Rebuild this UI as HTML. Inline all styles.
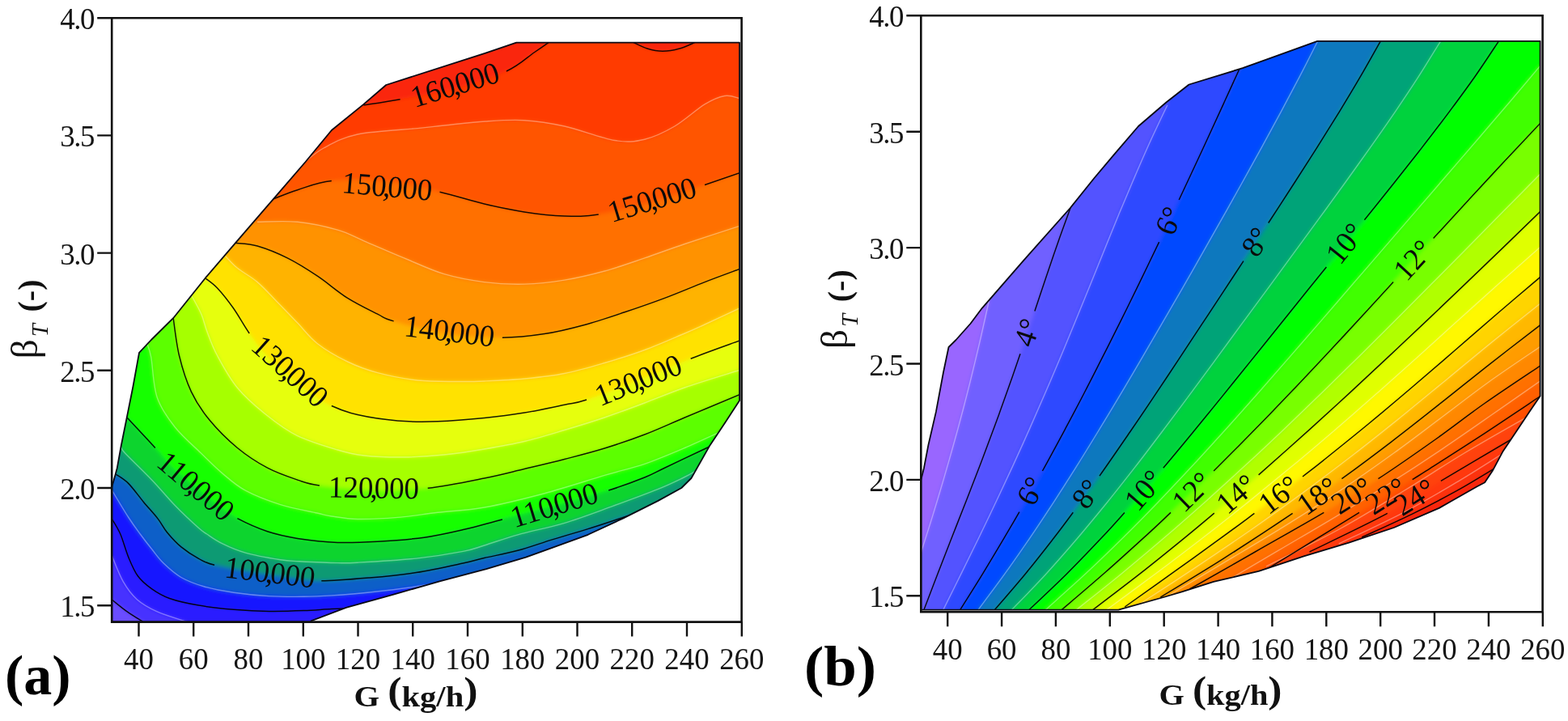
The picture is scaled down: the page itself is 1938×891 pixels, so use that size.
<!DOCTYPE html>
<html lang="en"><head><meta charset="utf-8"><title>Contour maps</title>
<style>html,body{margin:0;padding:0;background:#fff}svg{display:block}text{font-family:'Liberation Serif','DejaVu Serif',serif}</style></head><body>
<svg width="1938" height="891" viewBox="0 0 1938 891">
<defs><filter id="soft" filterUnits="userSpaceOnUse" x="0" y="0" width="1938" height="891"><feGaussianBlur stdDeviation="2.5"/></filter></defs>
<rect width="1938" height="891" fill="#fff"/>
<clipPath id="cpa"><path d="M138.2,768.6L138.2,602L142.3,587.4L144.8,578.2L149.7,551L157.2,513.8L164.6,476.7L172,435.8L186.9,420L214.1,393.2L253.7,343.7L290.9,300.3L338,245.8L377.6,200L409.8,161L449.4,128.9L477.2,105L600,65.7L638.2,52.6L914,52.6L914,495L896.4,522L876.7,551.6L854.4,591L842.3,603L813.4,618.9L770,640.6L726.7,660.8L683.3,676.7L650,688.7L601.2,703.1L543.4,718.3L485.6,734.9L427.8,750.8L384.4,767.4L384.4,768.6Z"/></clipPath>
<g clip-path="url(#cpa)">
<g filter="url(#soft)">
<rect x="-50" y="-50" width="2050" height="1000" fill="#6A4DFF"/>
<path d="M138.2,741C141.4,743.5 150.7,751.3 157.2,755.9C163.7,760.5 173.7,766.5 177,768.6L177,950L2000,950L2000,-50L-50,-50L-50,741Z" fill="#4632FF"/>
<path d="M138.2,686.5C140.5,691.9 147,709.6 152.2,718.7C157.4,727.8 162.5,734.8 169.5,741C176.5,747.2 184,751.3 194.3,755.9C204.6,760.5 225.3,766.5 231.5,768.6L231.5,950L2000,950L2000,-50L-50,-50L-50,686.5Z" fill="#2A1AFF"/>
<path d="M138.2,641C140,644.2 145.4,652 148.8,660C152.2,668 155.3,680.2 158.9,688.9C162.5,697.6 165.7,705.5 170.5,712C175.3,718.5 181.3,723.3 187.8,727.9C194.3,732.5 199.9,736.1 209.5,739.5C219.1,742.9 232.4,745.8 245.6,748.1C258.8,750.4 274.4,752 288.9,753.2C303.3,754.4 317.9,755.2 332.3,755.4C346.8,755.6 362.7,755.1 375.6,754.6C388.6,754.1 399.3,753 410,752.5C420.7,752 435,751.7 440,751.5L440,950L2000,950L2000,-50L-50,-50L-50,641Z" fill="#1515FF"/>
<path d="M138.2,605.5C141.6,611.2 153.1,630.4 158.9,639.5C164.8,648.6 168.5,653.5 173.3,660C178.1,666.5 183,672.8 187.8,678.8C192.6,684.8 196.2,690.3 202.2,696.1C208.2,701.9 215.5,708.7 223.9,713.5C232.3,718.3 242,721.9 252.8,725C263.6,728.1 275.6,730.3 288.9,732.2C302.1,734.1 317.9,735.8 332.3,736.6C346.8,737.5 362.7,737.4 375.6,737.3C388.6,737.2 396.5,736.8 410,735.9C423.5,735 439.3,733.9 456.7,732C474.1,730.1 498.4,727.2 514.5,724.8C530.5,722.4 546.6,718.7 553,717.5L553,950L2000,950L2000,-50L-50,-50L-50,605.5Z" fill="#0F5FC8"/>
<path d="M143,586C145.7,587.9 153.1,591.8 158.9,597.6C164.7,603.4 171.7,613.5 177.7,620.7C183.7,627.9 190.2,634.7 195,640.9C199.8,647.1 201.8,652.2 206.6,658C211.4,663.8 217.4,670.5 223.9,675.9C230.4,681.3 238.7,686.6 245.6,690.3C252.5,694 253,695.3 265.1,698.3C277.2,701.2 302.2,705.4 318,708C333.8,710.6 346.8,712.4 360,714C373.2,715.6 381.2,717.8 397.3,717.8C413.4,717.8 437.2,715.7 456.7,714C476.2,712.3 495.2,710.5 514.5,707.5C533.8,704.5 558.3,699 572.3,696C586.3,693 587.3,692.1 598.6,689.5C609.9,686.9 625.9,684.1 640,680.3C654.1,676.5 668.8,671 683.3,666.6C697.8,662.2 712.2,658.1 726.7,653.6C741.2,649.1 761.1,642.4 770,639.5C778.9,636.6 778.3,636.6 780,636L780,950L2000,950L2000,-50L-50,-50L-50,586Z" fill="#0F9A73"/>
<path d="M150,553C150.8,554.2 148.3,553.3 154.6,560C160.9,566.7 177.5,582.4 187.8,593.2C198.2,604 207.1,615.1 216.7,625C226.3,634.9 239.1,646.7 245.6,652.5C252.1,658.3 250.9,656.8 255.7,660C260.5,663.2 266.6,667.8 274.5,671.6C282.4,675.5 291.4,679.7 303.4,683.1C315.4,686.5 335.6,690 346.7,691.8C357.8,693.6 358.2,693.1 370,693.7C381.8,694.3 405.2,695.4 417.2,695.6C429.2,695.9 426,696.1 442.2,695.2C458.4,694.3 492.8,692.4 514.5,690.1C536.2,687.8 558.3,684.1 572.3,681.4C586.3,678.7 587.3,677.4 598.6,674C609.9,670.6 623.5,665.4 640,660.8C656.5,656.2 678.5,652.1 697.8,646.3C717.1,640.5 736.3,633.1 755.6,626.1C774.9,619.1 798.5,610.4 813.4,604.4C828.3,598.4 837.4,593.7 845.2,590C853,586.3 857.5,583.3 860,582L2000,582L2000,-50L-50,-50L-50,553Z" fill="#0FD42D"/>
<path d="M157.2,516.3C163,522.5 182.2,542.9 191.8,553.5C201.4,564.1 206.5,571.8 215,580C223.5,588.2 233.8,595.5 243,603C252.2,610.5 261.6,618.7 270,625C278.4,631.3 283.3,635.4 293.4,640.7C303.5,646 318.1,652.7 330.5,656.8C342.9,660.9 353.2,663.1 367.7,665.4C382.1,667.7 400.7,669.8 417.2,670.4C433.7,671 448.9,670.2 466.7,669.2C484.5,668.2 506.4,666.7 524.3,664.2C542.1,661.7 557.7,658 573.8,654.3C589.9,650.6 602,646.8 620.9,641.9C639.8,637 665.1,631 687,625C708.9,619 733.9,611.8 752.2,606C770.5,600.2 785.2,594.6 796.7,590C808.2,585.4 809.1,584.1 821.5,578.2C833.9,572.3 861.6,559.2 871,554.7C880.4,550.2 876.8,551.6 878,551L2000,551L2000,-50L-50,-50L-50,516.3Z" fill="#12FF06"/>
<path d="M182,425C182.8,427.8 184.8,430.7 186.8,441.7C188.8,452.7 189.3,476.6 194.2,491C199.1,505.4 207.3,516.5 216.4,528C225.5,539.5 238.8,550.6 248.5,560C258.2,569.4 265.4,576.9 274.5,584.6C283.6,592.3 291.4,599.7 303.4,606.2C315.4,612.7 331.9,619 346.7,623.6C361.5,628.2 381.4,631.6 392,634C402.6,636.4 401.7,636.8 410,638C418.3,639.2 428.4,641.3 442,641.5C455.6,641.7 475,640.8 491.5,639.4C508,638 523.1,635.4 541,633.3C558.9,631.2 576.6,630.9 598.6,627C620.6,623.1 648.1,616.3 672.9,609.7C697.7,603.1 726.6,593.5 747.2,587.4C767.8,581.3 780.2,578.9 796.7,573.3C813.2,567.6 829.8,560.5 846.3,553.5C862.8,546.5 887.5,534.9 895.8,531.2L2000,531.2L2000,-50L-50,-50L-50,425Z" fill="#5CFF00"/>
<path d="M214.1,392.5C215.3,400.3 217.8,424.2 221.5,439.5C225.2,454.8 230.2,470.9 236.4,484.1C242.6,497.3 249.2,507.2 258.7,518.8C268.2,530.4 281.4,543.6 293.4,553.5C305.4,563.4 318.1,571.6 330.5,578.2C342.9,584.8 357,589.5 367.7,593.1C378.4,596.7 379.2,597.9 394.9,600C410.6,602.1 439.7,605.5 462,606C484.3,606.5 505.9,605.8 528.7,603.3C551.5,600.8 578.7,595 598.6,591C618.5,587 631.6,583.4 648.1,579.5C664.6,575.6 681.2,571.8 697.7,567.5C714.2,563.2 730.7,559.1 747.2,554C763.7,548.9 780.2,543.3 796.7,537C813.2,530.7 826.8,524.2 846.3,516C865.8,507.8 902.7,492.5 914,487.8L2000,487.8L2000,-50L-50,-50L-50,392.5Z" fill="#A6FF00"/>
<path d="M236.4,364.7C238.5,368.6 245.5,380.6 248.8,388.2C252.1,395.8 252.7,401.4 256,410C259.3,418.6 262.4,428 268.6,439.5C274.8,451 283.1,466.8 293.4,479.2C303.7,491.6 318.1,503.9 330.5,513.8C342.9,523.7 353.2,531.6 367.7,538.6C382.1,545.6 403.5,551.9 417.2,556C430.9,560.1 436.2,561.5 450,563C463.8,564.5 483.5,565.2 500,565C516.5,564.8 532.6,563.7 549,562C565.4,560.3 582.1,557.8 598.6,555C615.1,552.2 631.6,549.4 648.1,545.5C664.6,541.6 681.2,536.4 697.7,531.5C714.2,526.6 730.7,521.6 747.2,516C763.7,510.4 780.2,504.2 796.7,498C813.2,491.8 826.8,485.8 846.3,479C865.8,472.2 902.7,461.1 914,457.5L2000,457.5L2000,-50L-50,-50L-50,364.7Z" fill="#E6FF0A"/>
<path d="M253.7,343.7C256.2,345.8 262.8,349.8 268.6,356C274.4,362.2 281.8,371.5 288.4,380.8C295,390.1 301.3,402.1 308.2,412C315.1,421.9 321.9,431.2 330,440C338.1,448.8 347.8,457.2 357,465C366.2,472.8 376.2,480.9 385,487C393.8,493.1 400.3,497.2 409.8,501.5C419.3,505.8 428.4,509.5 442,512.6C455.6,515.7 475,518.6 491.5,520C508,521.4 523.1,521.4 541,520.8C558.9,520.2 580.8,518.3 598.6,516.5C616.5,514.7 631.6,512.8 648.1,510.1C664.6,507.4 684.9,502.9 697.7,500.2C710.5,497.5 709.8,499 725,494C740.2,489 767.5,478.5 789,470C810.5,461.5 832.9,451.4 853.7,443.2C874.5,435 904,424.7 914,421L2000,421L2000,-50L-50,-50L-50,343.7Z" fill="#FFE205"/>
<path d="M278.5,316.4C281,318.9 286.8,325.9 293.4,331.3C300,336.7 309.9,341.6 318.1,348.6C326.4,355.6 334.6,365 342.9,373.4C351.2,381.8 359.4,390.4 367.7,399C375.9,407.6 382.1,416.7 392.4,424.7C402.7,432.7 417.2,441 429.6,447C442,453 452.2,456.8 466.7,460.6C481.1,464.4 499.8,468.2 516.3,470C532.8,471.8 552.1,471.3 565.8,471.5C579.5,471.7 584.9,471.6 598.6,471C612.3,470.4 631.6,469.6 648.1,468C664.6,466.4 681.2,464.8 697.7,461.5C714.2,458.2 730.7,453.3 747.2,448.5C763.7,443.7 780.2,438.6 796.7,432.5C813.2,426.4 833.9,417.2 846.3,412C858.7,406.8 859.7,406.2 871,401C882.3,395.8 906.8,384.3 914,381L2000,381L2000,-50L-50,-50L-50,316.4Z" fill="#FFB300"/>
<path d="M290.9,300.3C295.4,300.9 307.4,300.9 318.1,304C328.8,307.1 342.9,312.7 355.3,318.9C367.7,325.1 380,332.9 392.4,341.2C404.8,349.4 417.2,360.6 429.6,368.4C442,376.2 457.2,383.4 466.7,388.2C476.2,392.9 472.2,392.8 486.6,396.9C501,401 530.6,409.6 553,413C575.4,416.4 600.9,417.4 620.9,417.3C640.9,417.2 656,415.2 672.9,412.6C689.8,410 705.9,406 722.4,401.5C738.9,397 755.5,391.3 772,385.8C788.5,380.3 805,374.6 821.5,368.4C838,362.2 855.6,354.6 871,348.6C886.4,342.6 906.8,335.2 914,332.5L2000,332.5L2000,-50L-50,-50L-50,300.3Z" fill="#FF9200"/>
<path d="M318,274.3C326.3,274.3 351.2,272.7 367.7,274.3C384.2,275.9 403.5,280.3 417.2,284.2C430.9,288.1 436.3,292 450,297.8C463.7,303.6 483,312.1 499.5,318.9C516,325.7 532.5,333.8 549,338.7C565.5,343.6 582.1,346.5 598.6,348.6C615.1,350.7 631.6,351.5 648.1,351.1C664.6,350.7 681.2,348.8 697.7,346.1C714.2,343.4 730.7,339.5 747.2,335C763.7,330.5 780.2,324.5 796.7,318.9C813.2,313.3 826.8,308.1 846.3,301.5C865.8,294.9 902.7,283 914,279.3L2000,279.3L2000,-50L-50,-50L-50,274.3Z" fill="#FF7000"/>
<path d="M338,245.8C342.9,244 355.7,238.4 367.7,234.7C379.7,231 391.6,225.3 409.8,223.5C428,221.7 454.7,221.7 477,224C499.3,226.3 523.2,232.5 543.5,237.2C563.8,241.9 581.2,247.9 598.6,252C616,256.1 631.6,259.4 648.1,261.9C664.6,264.4 682.4,266.4 697.7,266.9C713,267.4 721.8,267.7 739.8,264.9C757.8,262.1 784.1,256.1 806,250C827.9,243.9 853,234.6 871,228.5C889,222.4 906.8,216.1 914,213.6L2000,213.6L2000,-50L-50,-50L-50,245.8Z" fill="#FF5500"/>
<path d="M375,202C379.2,198.8 388.8,189 400,183C411.2,177 422.7,170.1 442,166C461.3,161.9 498.2,160.4 516,158.6C533.8,156.8 535,156.4 549,155C563,153.6 583.5,151.1 600,150C616.5,148.9 631.7,147.7 648,148.7C664.3,149.7 679.1,151.9 697.7,156C716.3,160.1 743.1,170.8 759.6,173.5C776.1,176.2 784.3,175.1 796.7,172.2C809.1,169.3 821.5,163.2 833.9,156C846.3,148.8 860.7,135.2 871,128.9C881.3,122.7 888.6,119.7 895.8,118.5C903,117.3 911,121 914,121.5L2000,121.5L2000,-50L-50,-50L-50,202Z" fill="#FF3A00"/>
<path d="M449.4,130C456.9,128.8 476,126 494.6,122.7C513.2,119.4 539.1,115.8 561,110C582.9,104.2 609.4,95.5 625.9,88C642.4,80.5 651.3,70.9 660,65C668.7,59.1 674.9,54.7 677.9,52.6L677.9,-50L-50,-50L-50,130Z" fill="#FA2808"/>
<path d="M783,52.6C785.8,53.8 794,58.2 800,60C806,61.8 812.3,63.2 819,63.2C825.7,63.2 833.4,61.8 840,60C846.6,58.2 855.6,53.8 858.7,52.6L858.7,-50L783,-50Z" fill="#FA2808"/>
</g>
<path d="M138.2,686.5C140.5,691.9 147,709.6 152.2,718.7C157.4,727.8 162.5,734.8 169.5,741C176.5,747.2 184,751.3 194.3,755.9C204.6,760.5 225.3,766.5 231.5,768.6M138.2,605.5C141.6,611.2 153.1,630.4 158.9,639.5C164.8,648.6 168.5,653.5 173.3,660C178.1,666.5 183,672.8 187.8,678.8C192.6,684.8 196.2,690.3 202.2,696.1C208.2,701.9 215.5,708.7 223.9,713.5C232.3,718.3 242,721.9 252.8,725C263.6,728.1 275.6,730.3 288.9,732.2C302.1,734.1 317.9,735.8 332.3,736.6C346.8,737.5 362.7,737.4 375.6,737.3C388.6,737.2 396.5,736.8 410,735.9C423.5,735 439.3,733.9 456.7,732C474.1,730.1 498.4,727.2 514.5,724.8C530.5,722.4 546.6,718.7 553,717.5M150,553C150.8,554.2 148.3,553.3 154.6,560C160.9,566.7 177.5,582.4 187.8,593.2C198.2,604 207.1,615.1 216.7,625C226.3,634.9 239.1,646.7 245.6,652.5C252.1,658.3 250.9,656.8 255.7,660C260.5,663.2 266.6,667.8 274.5,671.6C282.4,675.5 291.4,679.7 303.4,683.1C315.4,686.5 335.6,690 346.7,691.8C357.8,693.6 358.2,693.1 370,693.7C381.8,694.3 405.2,695.4 417.2,695.6C429.2,695.9 426,696.1 442.2,695.2C458.4,694.3 492.8,692.4 514.5,690.1C536.2,687.8 558.3,684.1 572.3,681.4C586.3,678.7 587.3,677.4 598.6,674C609.9,670.6 623.5,665.4 640,660.8C656.5,656.2 678.5,652.1 697.8,646.3C717.1,640.5 736.3,633.1 755.6,626.1C774.9,619.1 798.5,610.4 813.4,604.4C828.3,598.4 837.4,593.7 845.2,590C853,586.3 857.5,583.3 860,582M182,425C182.8,427.8 184.8,430.7 186.8,441.7C188.8,452.7 189.3,476.6 194.2,491C199.1,505.4 207.3,516.5 216.4,528C225.5,539.5 238.8,550.6 248.5,560C258.2,569.4 265.4,576.9 274.5,584.6C283.6,592.3 291.4,599.7 303.4,606.2C315.4,612.7 331.9,619 346.7,623.6C361.5,628.2 381.4,631.6 392,634C402.6,636.4 401.7,636.8 410,638C418.3,639.2 428.4,641.3 442,641.5C455.6,641.7 475,640.8 491.5,639.4C508,638 523.1,635.4 541,633.3C558.9,631.2 576.6,630.9 598.6,627C620.6,623.1 648.1,616.3 672.9,609.7C697.7,603.1 726.6,593.5 747.2,587.4C767.8,581.3 780.2,578.9 796.7,573.3C813.2,567.6 829.8,560.5 846.3,553.5C862.8,546.5 887.5,534.9 895.8,531.2M236.4,364.7C238.5,368.6 245.5,380.6 248.8,388.2C252.1,395.8 252.7,401.4 256,410C259.3,418.6 262.4,428 268.6,439.5C274.8,451 283.1,466.8 293.4,479.2C303.7,491.6 318.1,503.9 330.5,513.8C342.9,523.7 353.2,531.6 367.7,538.6C382.1,545.6 403.5,551.9 417.2,556C430.9,560.1 436.2,561.5 450,563C463.8,564.5 483.5,565.2 500,565C516.5,564.8 532.6,563.7 549,562C565.4,560.3 582.1,557.8 598.6,555C615.1,552.2 631.6,549.4 648.1,545.5C664.6,541.6 681.2,536.4 697.7,531.5C714.2,526.6 730.7,521.6 747.2,516C763.7,510.4 780.2,504.2 796.7,498C813.2,491.8 826.8,485.8 846.3,479C865.8,472.2 902.7,461.1 914,457.5M278.5,316.4C281,318.9 286.8,325.9 293.4,331.3C300,336.7 309.9,341.6 318.1,348.6C326.4,355.6 334.6,365 342.9,373.4C351.2,381.8 359.4,390.4 367.7,399C375.9,407.6 382.1,416.7 392.4,424.7C402.7,432.7 417.2,441 429.6,447C442,453 452.2,456.8 466.7,460.6C481.1,464.4 499.8,468.2 516.3,470C532.8,471.8 552.1,471.3 565.8,471.5C579.5,471.7 584.9,471.6 598.6,471C612.3,470.4 631.6,469.6 648.1,468C664.6,466.4 681.2,464.8 697.7,461.5C714.2,458.2 730.7,453.3 747.2,448.5C763.7,443.7 780.2,438.6 796.7,432.5C813.2,426.4 833.9,417.2 846.3,412C858.7,406.8 859.7,406.2 871,401C882.3,395.8 906.8,384.3 914,381M318,274.3C326.3,274.3 351.2,272.7 367.7,274.3C384.2,275.9 403.5,280.3 417.2,284.2C430.9,288.1 436.3,292 450,297.8C463.7,303.6 483,312.1 499.5,318.9C516,325.7 532.5,333.8 549,338.7C565.5,343.6 582.1,346.5 598.6,348.6C615.1,350.7 631.6,351.5 648.1,351.1C664.6,350.7 681.2,348.8 697.7,346.1C714.2,343.4 730.7,339.5 747.2,335C763.7,330.5 780.2,324.5 796.7,318.9C813.2,313.3 826.8,308.1 846.3,301.5C865.8,294.9 902.7,283 914,279.3M375,202C379.2,198.8 388.8,189 400,183C411.2,177 422.7,170.1 442,166C461.3,161.9 498.2,160.4 516,158.6C533.8,156.8 535,156.4 549,155C563,153.6 583.5,151.1 600,150C616.5,148.9 631.7,147.7 648,148.7C664.3,149.7 679.1,151.9 697.7,156C716.3,160.1 743.1,170.8 759.6,173.5C776.1,176.2 784.3,175.1 796.7,172.2C809.1,169.3 821.5,163.2 833.9,156C846.3,148.8 860.7,135.2 871,128.9C881.3,122.7 888.6,119.7 895.8,118.5C903,117.3 911,121 914,121.5" fill="none" stroke="rgba(255,255,255,0.36)" stroke-width="1.4"/>
<path d="M138.2,741C141.4,743.5 150.7,751.3 157.2,755.9C163.7,760.5 173.7,766.5 177,768.6M138.2,641C140,644.2 145.4,652 148.8,660C152.2,668 155.3,680.2 158.9,688.9C162.5,697.6 165.7,705.5 170.5,712C175.3,718.5 181.3,723.3 187.8,727.9C194.3,732.5 199.9,736.1 209.5,739.5C219.1,742.9 232.4,745.8 245.6,748.1C258.8,750.4 274.4,752 288.9,753.2C303.3,754.4 317.9,755.2 332.3,755.4C346.8,755.6 362.7,755.1 375.6,754.6C388.6,754.1 399.3,753 410,752.5C420.7,752 435,751.7 440,751.5M143,586C145.7,587.9 153.1,591.8 158.9,597.6C164.7,603.4 171.7,613.5 177.7,620.7C183.7,627.9 190.2,634.7 195,640.9C199.8,647.1 201.8,652.2 206.6,658C211.4,663.8 217.4,670.5 223.9,675.9C230.4,681.3 238.7,686.6 245.6,690.3C252.5,694 253,695.3 265.1,698.3M397.3,717.8C413.4,717.8 437.2,715.7 456.7,714C476.2,712.3 495.2,710.5 514.5,707.5C533.8,704.5 558.3,699 572.3,696C586.3,693 587.3,692.1 598.6,689.5C609.9,686.9 625.9,684.1 640,680.3C654.1,676.5 668.8,671 683.3,666.6C697.8,662.2 712.2,658.1 726.7,653.6C741.2,649.1 761.1,642.4 770,639.5C778.9,636.6 778.3,636.6 780,636M157.2,516.3C163,522.5 182.2,542.9 191.8,553.5M293.4,640.7C303.5,646 318.1,652.7 330.5,656.8C342.9,660.9 353.2,663.1 367.7,665.4C382.1,667.7 400.7,669.8 417.2,670.4C433.7,671 448.9,670.2 466.7,669.2C484.5,668.2 506.4,666.7 524.3,664.2C542.1,661.7 557.7,658 573.8,654.3C589.9,650.6 602,646.8 620.9,641.9M752.2,606C770.5,600.2 785.2,594.6 796.7,590C808.2,585.4 809.1,584.1 821.5,578.2C833.9,572.3 861.6,559.2 871,554.7C880.4,550.2 876.8,551.6 878,551M214.1,392.5C215.3,400.3 217.8,424.2 221.5,439.5C225.2,454.8 230.2,470.9 236.4,484.1C242.6,497.3 249.2,507.2 258.7,518.8C268.2,530.4 281.4,543.6 293.4,553.5C305.4,563.4 318.1,571.6 330.5,578.2C342.9,584.8 357,589.5 367.7,593.1C378.4,596.7 379.2,597.9 394.9,600M528.7,603.3C551.5,600.8 578.7,595 598.6,591C618.5,587 631.6,583.4 648.1,579.5C664.6,575.6 681.2,571.8 697.7,567.5C714.2,563.2 730.7,559.1 747.2,554C763.7,548.9 780.2,543.3 796.7,537C813.2,530.7 826.8,524.2 846.3,516C865.8,507.8 902.7,492.5 914,487.8M253.7,343.7C256.2,345.8 262.8,349.8 268.6,356C274.4,362.2 281.8,371.5 288.4,380.8C295,390.1 301.3,402.1 308.2,412M409.8,501.5C419.3,505.8 428.4,509.5 442,512.6C455.6,515.7 475,518.6 491.5,520C508,521.4 523.1,521.4 541,520.8C558.9,520.2 580.8,518.3 598.6,516.5C616.5,514.7 631.6,512.8 648.1,510.1C664.6,507.4 684.9,502.9 697.7,500.2C710.5,497.5 709.8,499 725,494M853.7,443.2C874.5,435 904,424.7 914,421M290.9,300.3C295.4,300.9 307.4,300.9 318.1,304C328.8,307.1 342.9,312.7 355.3,318.9C367.7,325.1 380,332.9 392.4,341.2C404.8,349.4 417.2,360.6 429.6,368.4C442,376.2 457.2,383.4 466.7,388.2C476.2,392.9 472.2,392.8 486.6,396.9M620.9,417.3C640.9,417.2 656,415.2 672.9,412.6C689.8,410 705.9,406 722.4,401.5C738.9,397 755.5,391.3 772,385.8C788.5,380.3 805,374.6 821.5,368.4C838,362.2 855.6,354.6 871,348.6C886.4,342.6 906.8,335.2 914,332.5M338,245.8C342.9,244 355.7,238.4 367.7,234.7C379.7,231 391.6,225.3 409.8,223.5M543.5,237.2C563.8,241.9 581.2,247.9 598.6,252C616,256.1 631.6,259.4 648.1,261.9C664.6,264.4 682.4,266.4 697.7,266.9C713,267.4 721.8,267.7 739.8,264.9M871,228.5C889,222.4 906.8,216.1 914,213.6M449.4,130C456.9,128.8 476,126 494.6,122.7M625.9,88C642.4,80.5 651.3,70.9 660,65C668.7,59.1 674.9,54.7 677.9,52.6M783,52.6C785.8,53.8 794,58.2 800,60C806,61.8 812.3,63.2 819,63.2C825.7,63.2 833.4,61.8 840,60C846.6,58.2 855.6,53.8 858.7,52.6" fill="none" stroke="#000" stroke-width="1.5" stroke-opacity="0.9"/>
</g>
<path d="M138.2,768.6L138.2,602.0L142.3,587.4L144.8,578.2L149.7,551.0L157.2,513.8L164.6,476.7L172.0,435.8L186.9,420.0L214.1,393.2L253.7,343.7L290.9,300.3L338.0,245.8L377.6,200.0L409.8,161.0L449.4,128.9L477.2,105.0L600.0,65.7L638.2,52.6L914.0,52.6L914.0,495.0L896.4,522.0L876.7,551.6L854.4,591.0L842.3,603.0L813.4,618.9L770.0,640.6L726.7,660.8L683.3,676.7L650.0,688.7L601.2,703.1L543.4,718.3L485.6,734.9L427.8,750.8L384.4,767.4L384.4,768.6Z" fill="none" stroke="#0a0a14" stroke-width="1.8" stroke-linejoin="round"/>
<path d="M138.2,22.2H916.6V768.6H138.2Z" fill="none" stroke="#111" stroke-width="2.6"/>
<path d="M171.5,768.6v18M239.2,768.6v18M307,768.6v18M374.8,768.6v18M442.5,768.6v18M510.2,768.6v18M578,768.6v18M645.8,768.6v18M713.5,768.6v18M781.2,768.6v18M849,768.6v18M916.8,768.6v18M138.2,22.2h-18M138.2,167.4h-18M138.2,312.6h-18M138.2,457.8h-18M138.2,603h-18M138.2,748.2h-18" fill="none" stroke="#111" stroke-width="2.4"/>
<g font-size="38" fill="#151515">
<text transform="translate(171.5,827.3) scale(0.97,1)" text-anchor="middle">40</text>
<text transform="translate(239.2,827.3) scale(0.97,1)" text-anchor="middle">60</text>
<text transform="translate(307,827.3) scale(0.97,1)" text-anchor="middle">80</text>
<text transform="translate(374.8,827.3) scale(0.97,1)" text-anchor="middle">100</text>
<text transform="translate(442.5,827.3) scale(0.97,1)" text-anchor="middle">120</text>
<text transform="translate(510.2,827.3) scale(0.97,1)" text-anchor="middle">140</text>
<text transform="translate(578,827.3) scale(0.97,1)" text-anchor="middle">160</text>
<text transform="translate(645.8,827.3) scale(0.97,1)" text-anchor="middle">180</text>
<text transform="translate(713.5,827.3) scale(0.97,1)" text-anchor="middle">200</text>
<text transform="translate(781.2,827.3) scale(0.97,1)" text-anchor="middle">220</text>
<text transform="translate(849,827.3) scale(0.97,1)" text-anchor="middle">240</text>
<text transform="translate(916.8,827.3) scale(0.97,1)" text-anchor="middle">260</text>
<text transform="translate(117.5,36.2) scale(0.97,1)" text-anchor="end">4<tspan dx="-1.5">.</tspan><tspan dx="-1.5">0</tspan></text>
<text transform="translate(117.5,181.4) scale(0.97,1)" text-anchor="end">3<tspan dx="-1.5">.</tspan><tspan dx="-1.5">5</tspan></text>
<text transform="translate(117.5,326.6) scale(0.97,1)" text-anchor="end">3<tspan dx="-1.5">.</tspan><tspan dx="-1.5">0</tspan></text>
<text transform="translate(117.5,471.8) scale(0.97,1)" text-anchor="end">2<tspan dx="-1.5">.</tspan><tspan dx="-1.5">5</tspan></text>
<text transform="translate(117.5,617) scale(0.97,1)" text-anchor="end">2<tspan dx="-1.5">.</tspan><tspan dx="-1.5">0</tspan></text>
<text transform="translate(117.5,762.2) scale(0.97,1)" text-anchor="end">1<tspan dx="-1.5">.</tspan><tspan dx="-1.5">5</tspan></text>
</g>
<g font-size="38" fill="#0a0a0a" text-anchor="middle">
<text transform="translate(562.5,105) rotate(-17) scale(0.97,1)" y="12.4">160<tspan dx="-4">,</tspan><tspan dx="-4">000</tspan></text>
<text transform="translate(478.5,230.5) rotate(5) scale(0.97,1)" y="12.4">150<tspan dx="-4">,</tspan><tspan dx="-4">000</tspan></text>
<text transform="translate(806,247) rotate(-17) scale(0.97,1)" y="12.4">150<tspan dx="-4">,</tspan><tspan dx="-4">000</tspan></text>
<text transform="translate(555.5,409.5) rotate(7) scale(0.97,1)" y="12.4">140<tspan dx="-4">,</tspan><tspan dx="-4">000</tspan></text>
<text transform="translate(358.5,459) rotate(42) scale(0.97,1)" y="12.4">130<tspan dx="-4">,</tspan><tspan dx="-4">000</tspan></text>
<text transform="translate(789,470) rotate(-22) scale(0.97,1)" y="12.4">130<tspan dx="-4">,</tspan><tspan dx="-4">000</tspan></text>
<text transform="translate(462,603) rotate(1) scale(0.97,1)" y="12.4">120<tspan dx="-4">,</tspan><tspan dx="-4">000</tspan></text>
<text transform="translate(242,601) rotate(40) scale(0.97,1)" y="12.4">110<tspan dx="-4">,</tspan><tspan dx="-4">000</tspan></text>
<text transform="translate(685,624.5) rotate(-17) scale(0.97,1)" y="12.4">110<tspan dx="-4">,</tspan><tspan dx="-4">000</tspan></text>
<text transform="translate(333.7,707.7) rotate(7) scale(0.97,1)" y="12.4">100<tspan dx="-4">,</tspan><tspan dx="-4">000</tspan></text>
</g>
<text x="6" y="858" font-size="70" font-weight="bold" fill="#000">(a)</text>
<text x="437.5" y="872.6" font-size="36" font-weight="bold" fill="#111" textLength="153" lengthAdjust="spacingAndGlyphs">G <tspan font-size="46" dy="-3.2">(</tspan><tspan font-size="36" dy="3.2">kg/h</tspan><tspan font-size="46" dy="-3.2">)</tspan></text>
<text transform="translate(46,443.3) rotate(-90)" font-size="47" fill="#111">β<tspan x="27" dy="12.6" font-size="29" font-style="italic">T</tspan><tspan x="47.8" dy="-9.1" font-size="40" font-weight="bold"> (-)</tspan></text>
<clipPath id="cpb"><path d="M1138.3,753.6L1138.3,593.1L1142,578.2L1147.4,550L1156.9,508.9L1166,460L1172.5,429L1181.6,420L1199.4,400L1213.8,380.8L1263.4,323.8L1322.8,257L1352.5,220L1377.3,190.7L1407,156L1441.7,126.3L1469.5,104.5L1535.8,84.2L1570,71.8L1628.2,50.8L1903.6,50.8L1903.6,489.4L1888.6,511.4L1872.9,535L1857.1,558.6L1844.6,582.1L1835.1,596.3L1825.1,601.5L1794.3,619L1778.7,627.9L1722.9,652L1667.2,670.6L1611.5,687.3L1555.7,705.9L1500,718.9L1461.5,731.1L1440,737.5L1382.3,753.6Z"/></clipPath>
<g clip-path="url(#cpb)">
<g filter="url(#soft)">
<rect x="-50" y="-50" width="2050" height="1000" fill="#9966FF"/>
<path d="M1137.9,684C1140.3,676.6 1147.5,654.2 1152.1,639.4C1156.7,624.5 1161.1,609.8 1165.5,594.9C1169.9,580 1174.1,565.2 1178.3,550.3C1182.5,535.4 1186.5,520.6 1190.4,505.7C1194.3,490.8 1198.1,476 1201.7,461.1C1205.3,446.2 1208.9,431.5 1212.3,416.6C1215.7,401.8 1220.6,379.4 1222.3,372L1222.3,-50L2000,-50L2000,950L-50,950L-50,684Z" fill="#7060FF"/>
<path d="M1142,753.6C1144.9,746 1153.5,723.3 1159.3,708.2C1165.1,693.1 1171.1,677.9 1177,662.8C1182.9,647.6 1189,632.4 1194.9,617.3C1200.8,602.1 1206.7,587 1212.4,571.9C1218.2,556.8 1223.8,541.6 1229.4,526.5C1235,511.4 1240.5,496 1245.8,481.1C1251.1,466.2 1255.5,453.3 1261,437.2C1266.5,421.1 1273.7,399.9 1278.9,384.5C1284.1,369.1 1287.4,359 1292.2,344.8C1297,330.6 1302.4,314.5 1307.7,299.4C1313,284.3 1321.4,261.6 1324.1,254L1324.1,-50L2000,-50L2000,950L1142,950Z" fill="#5252FF"/>
<path d="M1165.8,753.6C1169.5,746.2 1180.6,724 1187.9,709.1C1195.2,694.2 1202.6,679.4 1209.8,664.5C1217,649.6 1224.1,634.9 1231.1,620C1238.1,605.1 1245.2,590.2 1252,575.4C1258.8,560.5 1265.5,545.8 1272.1,530.9C1278.7,516 1285.2,501.1 1291.6,486.3C1298,471.5 1304.4,456.6 1310.6,441.8C1316.8,427 1322.9,412.2 1329,397.3C1335.1,382.4 1341.2,367.6 1347.2,352.7C1353.2,337.8 1359.2,323 1365.2,308.2C1371.2,293.4 1377.2,278.5 1383.4,263.6C1389.6,248.8 1395.8,233.9 1402.2,219.1C1408.6,204.2 1415,189.3 1421.8,174.5C1428.6,159.7 1439.3,137.4 1442.8,130L1442.8,-50L2000,-50L2000,950L1165.8,950Z" fill="#2E4AFF"/>
<path d="M1186.7,753.6C1191.4,746.1 1205.6,723.7 1214.7,708.8C1223.8,693.9 1234,676.8 1241.5,664.1C1249,651.4 1252.1,646.3 1259.9,632.6C1267.7,618.9 1278.9,599.1 1288.4,582C1297.9,564.9 1308.1,545.9 1316.8,529.7C1325.5,513.5 1332.7,499.9 1340.4,485C1348.2,470.1 1355.7,455.1 1363.3,440.2C1370.9,425.3 1378.4,410.3 1385.8,395.4C1393.2,380.5 1400,366.7 1407.8,350.6C1415.6,334.6 1425.5,314 1432.6,299.1C1439.7,284.2 1446.5,269.8 1450.6,261.1C1454.7,252.4 1453.7,254.5 1457.2,247C1460.7,239.5 1465.7,228.9 1471.6,216.3C1477.5,203.7 1485.5,186.4 1492.4,171.5C1499.3,156.6 1506.1,141.7 1512.9,126.8C1519.7,111.9 1530,89.5 1533.4,82L1533.4,-50L2000,-50L2000,950L1186.7,950Z" fill="#0548FF"/>
<path d="M1209,753.6C1214.4,746.3 1231,724.3 1241.5,709.7C1252,695.1 1262.2,680.4 1272.2,665.8C1282.2,651.1 1291.9,636.4 1301.5,621.8C1311.1,607.1 1320.4,592.5 1329.6,577.9C1338.8,563.3 1347.8,548.6 1356.7,534C1365.6,519.4 1374.5,504.8 1383.2,490.1C1392,475.5 1400.6,460.8 1409.2,446.1C1417.8,431.5 1426.3,416.8 1434.8,402.2C1443.3,387.6 1451.8,372.9 1460.2,358.3C1468.6,343.7 1477,329 1485.3,314.3C1493.6,299.6 1502,285 1510.2,270.4C1518.5,255.8 1526.7,241.1 1534.8,226.5C1542.9,211.9 1551.1,197.2 1559.1,182.6C1567.1,167.9 1575.1,153.2 1583,138.6C1590.9,123.9 1598.7,109.3 1606.3,94.7C1613.9,80.1 1625,58.1 1628.7,50.8L1628.7,-50L2000,-50L2000,950L1209,950Z" fill="#0878BE"/>
<path d="M1229.4,753.6C1235.7,746.3 1254.8,724.3 1266.9,709.7C1279,695.1 1291.9,678.5 1301.8,665.8C1311.7,653.1 1316.8,646.2 1326.3,633.3C1335.8,620.3 1347.3,604.6 1359,588.1C1370.7,571.6 1385.3,550.3 1396.5,534C1407.7,517.7 1416.4,504.8 1426.2,490.1C1436,475.5 1445.8,460.8 1455.5,446.1C1465.2,431.5 1474.8,416.8 1484.5,402.2C1494.2,387.6 1504.7,371.6 1513.4,358.3C1522.1,345 1527.9,336.4 1536.9,322.6C1546,308.8 1557.3,291.5 1567.7,275.5C1578.1,259.5 1589.5,242 1599.5,226.5C1609.5,211 1618.3,197.2 1627.6,182.6C1636.9,167.9 1646.1,153.2 1655.1,138.6C1664.1,123.9 1672.9,109.3 1681.4,94.7C1689.9,80.1 1702.2,58.1 1706.3,50.8L1706.3,-50L2000,-50L2000,950L1229.4,950Z" fill="#05A378"/>
<path d="M1250.6,753.6C1257.6,746.3 1279.1,724.3 1292.5,709.7C1305.9,695.1 1318.7,680.4 1331.2,665.8C1343.7,651.1 1355.8,636.4 1367.7,621.8C1379.6,607.1 1391,592.5 1402.4,577.9C1413.8,563.3 1424.9,548.6 1435.9,534C1447,519.4 1457.8,504.8 1468.7,490.1C1479.6,475.5 1490.4,460.8 1501.2,446.1C1512,431.5 1522.7,416.8 1533.4,402.2C1544.2,387.6 1555,372.9 1565.7,358.3C1576.5,343.7 1587.2,329 1597.9,314.3C1608.6,299.6 1619.4,285 1630.1,270.4C1640.8,255.8 1651.5,241.1 1662,226.5C1672.5,211.9 1683.1,197.2 1693.4,182.6C1703.8,167.9 1714.1,153.2 1724.1,138.6C1734.1,123.9 1743.9,109.3 1753.3,94.7C1762.7,80.1 1776,58.1 1780.6,50.8L1780.6,-50L2000,-50L2000,950L1250.6,950Z" fill="#05D23C"/>
<path d="M1271.9,753.6C1279.6,746.3 1303.2,724.3 1317.9,709.7C1332.7,695.1 1348.4,678.5 1360.4,665.8C1372.4,653.1 1377,648 1389.9,633.4C1402.8,618.8 1423.7,594.8 1437.8,578.2C1451.9,561.6 1462.5,548.7 1474.6,534C1486.7,519.3 1498.5,504.8 1510.4,490.1C1522.3,475.5 1534.1,460.8 1545.9,446.1C1557.7,431.5 1569.4,416.8 1581.2,402.2C1593,387.6 1606.8,370.3 1616.5,358.3C1626.2,346.3 1633.5,337.3 1639.4,330C1645.3,322.7 1644.3,324 1652.1,314.3C1659.9,304.6 1674.6,286.4 1686.4,271.8C1698.2,257.2 1710.9,241.4 1722.7,226.5C1734.5,211.6 1745.9,197.2 1757.3,182.6C1768.7,167.9 1780,153.2 1790.9,138.6C1801.8,123.9 1812.7,109.3 1822.9,94.7C1833.2,80.1 1847.5,58.1 1852.4,50.8L1852.4,-50L2000,-50L2000,950L1271.9,950Z" fill="#05FF05"/>
<path d="M1292.3,753.6C1300.6,746.1 1326,723.7 1342,708.8C1358,693.9 1373.5,678.9 1388.6,664C1403.7,649.1 1418.3,634.2 1432.7,619.2C1447.1,604.2 1461.2,589.2 1475.1,574.3C1489,559.3 1502.5,544.4 1516,529.5C1529.5,514.6 1542.7,499.6 1555.9,484.7C1569.1,469.8 1582.1,454.8 1595.1,439.9C1608.1,425 1621.1,410 1634,395.1C1646.9,380.2 1659.8,365.2 1672.7,350.3C1685.6,335.4 1698.6,320.3 1711.5,305.4C1724.4,290.4 1737.3,275.5 1750.2,260.6C1763.1,245.7 1776,230.7 1788.9,215.8C1801.8,200.9 1814.7,185.9 1827.5,171C1840.3,156.1 1853.1,141.1 1865.8,126.2C1878.5,111.3 1897.3,88.9 1903.6,81.4L2000,81.4L2000,950L1292.3,950Z" fill="#40FF00"/>
<path d="M1312.2,753.6C1321.2,745.9 1348.6,722.7 1366.1,707.3C1383.6,691.9 1403.9,673.4 1417.4,661.1C1430.9,648.8 1438.8,641.1 1447,633.4C1455.2,625.7 1457.7,623.4 1466.5,614.8C1475.3,606.2 1484.6,597.4 1500.1,582C1515.6,566.6 1542,540 1559.3,522.3C1576.6,504.6 1589.1,491.4 1603.8,476C1618.5,460.6 1632.8,445.2 1647.2,429.8C1661.6,414.4 1677.5,397 1690,383.5C1702.5,370 1708.5,363.4 1722.1,348.6C1735.7,333.8 1755.7,311.8 1771.6,294.5C1787.5,277.2 1802.5,260.8 1817.3,244.8C1832.1,228.8 1845.8,213.9 1860.2,198.5C1874.6,183.1 1896.5,159.9 1903.8,152.2L2000,152.2L2000,950L1312.2,950Z" fill="#78FF00"/>
<path d="M1330.5,753.6C1339.8,746.1 1368.3,723.7 1386.5,708.7C1404.7,693.7 1422.5,678.8 1439.9,663.8C1457.3,648.8 1474.3,633.8 1491.1,618.9C1507.8,604 1524.2,589 1540.4,574.1C1556.6,559.2 1572.5,544.2 1588.3,529.2C1604.1,514.2 1619.6,499.3 1635,484.3C1650.4,469.3 1665.6,454.4 1680.8,439.4C1696,424.4 1711,409.5 1726,394.5C1741,379.5 1755.8,364.6 1770.7,349.6C1785.6,334.6 1800.4,319.7 1815.2,304.7C1830,289.7 1844.8,274.8 1859.5,259.8C1874.2,244.9 1896.3,222.5 1903.7,215L2000,215L2000,950L1330.5,950Z" fill="#B0FF00"/>
<path d="M1350.8,753.6C1360.5,746.1 1390.1,723.8 1409.1,708.9C1428.1,694 1449.5,676.6 1464.8,664.1C1480.1,651.6 1491.9,641.6 1500.8,634.1C1509.7,626.6 1509,627.3 1518.1,619.4C1527.2,611.5 1538.7,601.8 1555.6,586.9C1572.5,572 1600.8,546.9 1619.6,529.9C1638.4,512.9 1652.4,500 1668.6,485.1C1684.8,470.2 1700.7,455.3 1716.6,440.4C1732.5,425.5 1748.4,410.5 1764.1,395.6C1779.8,380.7 1795.4,365.8 1811,350.9C1826.6,336 1842.1,321 1857.6,306.1C1873.1,291.2 1896.1,268.8 1903.8,261.4L2000,261.4L2000,950L1350.8,950Z" fill="#E0FF00"/>
<path d="M1367.8,753.6C1377.9,746.1 1408.6,723.7 1428.6,708.8C1448.5,693.9 1468.2,679 1487.5,664C1506.8,649 1525.8,634.1 1544.4,619.1C1563,604.1 1581.2,589.2 1599.2,574.3C1617.2,559.4 1634.7,544.4 1652.1,529.5C1669.5,514.6 1686.5,499.6 1703.4,484.7C1720.3,469.8 1736.9,454.8 1753.5,439.9C1770.1,424.9 1786.6,409.9 1803.2,395C1819.8,380.1 1836.2,365.1 1852.9,350.2C1869.7,335.3 1895.2,312.9 1903.7,305.4L2000,305.4L2000,950L1367.8,950Z" fill="#FFF800"/>
<path d="M1390.2,750C1400.8,742.5 1432.8,719.8 1453.9,704.7C1475,689.6 1500.5,671.1 1516.6,659.4C1532.7,647.7 1540.3,641.9 1550.4,634.4C1560.5,626.9 1567.5,621.7 1577.4,614.1C1587.3,606.5 1600.3,596.5 1610,589C1619.7,581.5 1622.2,579.7 1635.8,568.8C1649.4,557.9 1673.5,538.6 1691.8,523.5C1710.1,508.4 1727.9,493.4 1745.6,478.3C1763.3,463.2 1780.7,448.1 1798.2,433C1815.7,417.9 1832.8,402.8 1850.4,387.7C1868,372.6 1894.8,349.9 1903.7,342.4L2000,342.4L2000,950L1390.2,950Z" fill="#FFD400"/>
<path d="M1406.3,748C1418.2,740.2 1454.2,716.9 1477.5,701.4C1500.8,685.9 1523.9,670.2 1546.2,654.7C1568.5,639.2 1590.2,623.6 1611.4,608.1C1632.6,592.6 1653.1,577 1673.2,561.5C1693.3,546 1712.8,530.3 1732.1,514.8C1751.4,499.2 1770,483.7 1788.9,468.2C1807.8,452.7 1826.3,437.1 1845.4,421.6C1864.5,406.1 1894,382.8 1903.7,375L2000,375L2000,950L1406.3,950Z" fill="#FFB800"/>
<path d="M1434.4,738C1447.5,730 1485.6,707.2 1512.8,689.9C1540,672.6 1573.3,650.8 1597.6,634.4C1621.9,618 1638,606.5 1658.4,591.7C1678.8,576.9 1699.4,561.5 1719.9,545.8C1740.4,530.1 1761.1,513.7 1781.4,497.7C1801.7,481.7 1821.4,465.6 1841.8,449.6C1862.2,433.6 1893.5,409.6 1903.8,401.6L2000,401.6L2000,950L1434.4,950Z" fill="#FF9C00"/>
<path d="M1445.9,735C1458.2,727.7 1495.3,705.8 1519.7,691.2C1544.1,676.6 1568.8,662 1592.2,647.4C1615.6,632.8 1638.5,618.2 1660.3,603.6C1682.1,589 1702.7,574.4 1722.9,559.8C1743.1,545.2 1762,530.6 1781.5,516C1801,501.4 1819.4,486.8 1839.8,472.2C1860.2,457.6 1893,435.7 1903.7,428.4L2000,428.4L2000,950L1445.9,950Z" fill="#FF8800"/>
<path d="M1470.4,728C1483.9,720.3 1523.7,697.8 1551.3,682C1578.9,666.2 1610.9,648.4 1636.3,633.4C1661.7,618.4 1680.8,606.6 1703.5,591.7C1726.2,576.8 1750.8,559.6 1772.8,544C1794.8,528.4 1813.8,513.3 1835.6,498C1857.4,482.7 1892.3,459.7 1903.7,452L2000,452L2000,950L1470.4,950Z" fill="#FF7000"/>
<path d="M1509.1,722C1520.9,715 1556.5,694.2 1580.2,680.2C1603.9,666.2 1628.1,652.2 1651.2,638.3C1674.3,624.3 1697,610.5 1718.9,596.5C1740.9,582.5 1762.1,568.6 1782.9,554.6C1803.7,540.6 1823.4,526.8 1843.5,512.8C1863.6,498.8 1893.6,477.9 1903.6,470.9L2000,470.9L2000,950L1509.1,950Z" fill="#FF6000"/>
<path d="M1551.6,712C1563.8,704.6 1603.1,680.6 1624.5,667.5C1645.9,654.4 1659.8,645.9 1680,633.4C1700.2,620.9 1731,601.7 1745.7,592.6C1760.4,583.5 1752.7,588.4 1767.9,578.6C1783.1,568.9 1814.5,548.9 1837.1,534.1C1859.7,519.3 1892.6,497 1903.7,489.6L2000,489.6L2000,950L1551.6,950Z" fill="#FF5000"/>
<path d="M1564.9,700C1580.2,692.2 1628.5,668.7 1657,653C1685.5,637.3 1710.3,621.7 1736,606C1761.7,590.3 1785.2,574.7 1811.4,559C1837.6,543.3 1879.5,519.8 1893.1,512L2000,512L2000,950L1564.9,950Z" fill="#FF4208"/>
<path d="M1618.5,682C1634.5,674.1 1687.7,649 1714.8,634.4C1741.9,619.8 1754.6,610.1 1780.9,594.4C1807.2,578.7 1857.6,549.1 1872.9,540L2000,540L2000,950L1618.5,950Z" fill="#FF3808"/>
<path d="M1654.7,672C1667.7,665.7 1708.7,646.8 1732.8,634.3C1756.9,621.8 1778,609.2 1799.2,596.7C1820.4,584.2 1849.6,565.3 1859.7,559L2000,559L2000,950L1654.7,950Z" fill="#FC300C"/>
<path d="M1683.2,664C1693.5,659.2 1725.6,644.8 1745.1,635.3C1764.6,625.8 1782.9,616.2 1800.2,606.7C1817.5,597.2 1840.6,582.8 1848.7,578L2000,578L2000,950L1683.2,950Z" fill="#F82810"/>
</g>
<path d="M1137.9,684C1140.3,676.6 1147.5,654.2 1152.1,639.4C1156.7,624.5 1161.1,609.8 1165.5,594.9C1169.9,580 1174.1,565.2 1178.3,550.3C1182.5,535.4 1186.5,520.6 1190.4,505.7C1194.3,490.8 1198.1,476 1201.7,461.1C1205.3,446.2 1208.9,431.5 1212.3,416.6C1215.7,401.8 1220.6,379.4 1222.3,372M1165.8,753.6C1169.5,746.2 1180.6,724 1187.9,709.1C1195.2,694.2 1202.6,679.4 1209.8,664.5C1217,649.6 1224.1,634.9 1231.1,620C1238.1,605.1 1245.2,590.2 1252,575.4C1258.8,560.5 1265.5,545.8 1272.1,530.9C1278.7,516 1285.2,501.1 1291.6,486.3C1298,471.5 1304.4,456.6 1310.6,441.8C1316.8,427 1322.9,412.2 1329,397.3C1335.1,382.4 1341.2,367.6 1347.2,352.7C1353.2,337.8 1359.2,323 1365.2,308.2C1371.2,293.4 1377.2,278.5 1383.4,263.6C1389.6,248.8 1395.8,233.9 1402.2,219.1C1408.6,204.2 1415,189.3 1421.8,174.5C1428.6,159.7 1439.3,137.4 1442.8,130M1209,753.6C1214.4,746.3 1231,724.3 1241.5,709.7C1252,695.1 1262.2,680.4 1272.2,665.8C1282.2,651.1 1291.9,636.4 1301.5,621.8C1311.1,607.1 1320.4,592.5 1329.6,577.9C1338.8,563.3 1347.8,548.6 1356.7,534C1365.6,519.4 1374.5,504.8 1383.2,490.1C1392,475.5 1400.6,460.8 1409.2,446.1C1417.8,431.5 1426.3,416.8 1434.8,402.2C1443.3,387.6 1451.8,372.9 1460.2,358.3C1468.6,343.7 1477,329 1485.3,314.3C1493.6,299.6 1502,285 1510.2,270.4C1518.5,255.8 1526.7,241.1 1534.8,226.5C1542.9,211.9 1551.1,197.2 1559.1,182.6C1567.1,167.9 1575.1,153.2 1583,138.6C1590.9,123.9 1598.7,109.3 1606.3,94.7C1613.9,80.1 1625,58.1 1628.7,50.8M1250.6,753.6C1257.6,746.3 1279.1,724.3 1292.5,709.7C1305.9,695.1 1318.7,680.4 1331.2,665.8C1343.7,651.1 1355.8,636.4 1367.7,621.8C1379.6,607.1 1391,592.5 1402.4,577.9C1413.8,563.3 1424.9,548.6 1435.9,534C1447,519.4 1457.8,504.8 1468.7,490.1C1479.6,475.5 1490.4,460.8 1501.2,446.1C1512,431.5 1522.7,416.8 1533.4,402.2C1544.2,387.6 1555,372.9 1565.7,358.3C1576.5,343.7 1587.2,329 1597.9,314.3C1608.6,299.6 1619.4,285 1630.1,270.4C1640.8,255.8 1651.5,241.1 1662,226.5C1672.5,211.9 1683.1,197.2 1693.4,182.6C1703.8,167.9 1714.1,153.2 1724.1,138.6C1734.1,123.9 1743.9,109.3 1753.3,94.7C1762.7,80.1 1776,58.1 1780.6,50.8M1292.3,753.6C1300.6,746.1 1326,723.7 1342,708.8C1358,693.9 1373.5,678.9 1388.6,664C1403.7,649.1 1418.3,634.2 1432.7,619.2C1447.1,604.2 1461.2,589.2 1475.1,574.3C1489,559.3 1502.5,544.4 1516,529.5C1529.5,514.6 1542.7,499.6 1555.9,484.7C1569.1,469.8 1582.1,454.8 1595.1,439.9C1608.1,425 1621.1,410 1634,395.1C1646.9,380.2 1659.8,365.2 1672.7,350.3C1685.6,335.4 1698.6,320.3 1711.5,305.4C1724.4,290.4 1737.3,275.5 1750.2,260.6C1763.1,245.7 1776,230.7 1788.9,215.8C1801.8,200.9 1814.7,185.9 1827.5,171C1840.3,156.1 1853.1,141.1 1865.8,126.2C1878.5,111.3 1897.3,88.9 1903.6,81.4M1330.5,753.6C1339.8,746.1 1368.3,723.7 1386.5,708.7C1404.7,693.7 1422.5,678.8 1439.9,663.8C1457.3,648.8 1474.3,633.8 1491.1,618.9C1507.8,604 1524.2,589 1540.4,574.1C1556.6,559.2 1572.5,544.2 1588.3,529.2C1604.1,514.2 1619.6,499.3 1635,484.3C1650.4,469.3 1665.6,454.4 1680.8,439.4C1696,424.4 1711,409.5 1726,394.5C1741,379.5 1755.8,364.6 1770.7,349.6C1785.6,334.6 1800.4,319.7 1815.2,304.7C1830,289.7 1844.8,274.8 1859.5,259.8C1874.2,244.9 1896.3,222.5 1903.7,215M1367.8,753.6C1377.9,746.1 1408.6,723.7 1428.6,708.8C1448.5,693.9 1468.2,679 1487.5,664C1506.8,649 1525.8,634.1 1544.4,619.1C1563,604.1 1581.2,589.2 1599.2,574.3C1617.2,559.4 1634.7,544.4 1652.1,529.5C1669.5,514.6 1686.5,499.6 1703.4,484.7C1720.3,469.8 1736.9,454.8 1753.5,439.9C1770.1,424.9 1786.6,409.9 1803.2,395C1819.8,380.1 1836.2,365.1 1852.9,350.2C1869.7,335.3 1895.2,312.9 1903.7,305.4M1406.3,748C1418.2,740.2 1454.2,716.9 1477.5,701.4C1500.8,685.9 1523.9,670.2 1546.2,654.7C1568.5,639.2 1590.2,623.6 1611.4,608.1C1632.6,592.6 1653.1,577 1673.2,561.5C1693.3,546 1712.8,530.3 1732.1,514.8C1751.4,499.2 1770,483.7 1788.9,468.2C1807.8,452.7 1826.3,437.1 1845.4,421.6C1864.5,406.1 1894,382.8 1903.7,375M1445.9,735C1458.2,727.7 1495.3,705.8 1519.7,691.2C1544.1,676.6 1568.8,662 1592.2,647.4C1615.6,632.8 1638.5,618.2 1660.3,603.6C1682.1,589 1702.7,574.4 1722.9,559.8C1743.1,545.2 1762,530.6 1781.5,516C1801,501.4 1819.4,486.8 1839.8,472.2C1860.2,457.6 1893,435.7 1903.7,428.4M1509.1,722C1520.9,715 1556.5,694.2 1580.2,680.2C1603.9,666.2 1628.1,652.2 1651.2,638.3C1674.3,624.3 1697,610.5 1718.9,596.5C1740.9,582.5 1762.1,568.6 1782.9,554.6C1803.7,540.6 1823.4,526.8 1843.5,512.8C1863.6,498.8 1893.6,477.9 1903.6,470.9M1564.9,700C1580.2,692.2 1628.5,668.7 1657,653C1685.5,637.3 1710.3,621.7 1736,606C1761.7,590.3 1785.2,574.7 1811.4,559C1837.6,543.3 1879.5,519.8 1893.1,512M1654.7,672C1667.7,665.7 1708.7,646.8 1732.8,634.3C1756.9,621.8 1778,609.2 1799.2,596.7C1820.4,584.2 1849.6,565.3 1859.7,559" fill="none" stroke="rgba(255,255,255,0.36)" stroke-width="1.4"/>
<path d="M1142,753.6C1144.9,746 1153.5,723.3 1159.3,708.2C1165.1,693.1 1171.1,677.9 1177,662.8C1182.9,647.6 1189,632.4 1194.9,617.3C1200.8,602.1 1206.7,587 1212.4,571.9C1218.2,556.8 1223.8,541.6 1229.4,526.5C1235,511.4 1240.5,496 1245.8,481.1C1251.1,466.2 1255.5,453.3 1261,437.2M1278.9,384.5C1284.1,369.1 1287.4,359 1292.2,344.8C1297,330.6 1302.4,314.5 1307.7,299.4C1313,284.3 1321.4,261.6 1324.1,254M1186.7,753.6C1191.4,746.1 1205.6,723.7 1214.7,708.8C1223.8,693.9 1234,676.8 1241.5,664.1C1249,651.4 1252.1,646.3 1259.9,632.6M1288.4,582C1297.9,564.9 1308.1,545.9 1316.8,529.7C1325.5,513.5 1332.7,499.9 1340.4,485C1348.2,470.1 1355.7,455.1 1363.3,440.2C1370.9,425.3 1378.4,410.3 1385.8,395.4C1393.2,380.5 1400,366.7 1407.8,350.6C1415.6,334.6 1425.5,314 1432.6,299.1M1457.2,247C1460.7,239.5 1465.7,228.9 1471.6,216.3C1477.5,203.7 1485.5,186.4 1492.4,171.5C1499.3,156.6 1506.1,141.7 1512.9,126.8C1519.7,111.9 1530,89.5 1533.4,82M1229.4,753.6C1235.7,746.3 1254.8,724.3 1266.9,709.7C1279,695.1 1291.9,678.5 1301.8,665.8C1311.7,653.1 1316.8,646.2 1326.3,633.3M1359,588.1C1370.7,571.6 1385.3,550.3 1396.5,534C1407.7,517.7 1416.4,504.8 1426.2,490.1C1436,475.5 1445.8,460.8 1455.5,446.1C1465.2,431.5 1474.8,416.8 1484.5,402.2C1494.2,387.6 1504.7,371.6 1513.4,358.3C1522.1,345 1527.9,336.4 1536.9,322.6M1567.7,275.5C1578.1,259.5 1589.5,242 1599.5,226.5C1609.5,211 1618.3,197.2 1627.6,182.6C1636.9,167.9 1646.1,153.2 1655.1,138.6C1664.1,123.9 1672.9,109.3 1681.4,94.7C1689.9,80.1 1702.2,58.1 1706.3,50.8M1271.9,753.6C1279.6,746.3 1303.2,724.3 1317.9,709.7C1332.7,695.1 1348.4,678.5 1360.4,665.8C1372.4,653.1 1377,648 1389.9,633.4M1437.8,578.2C1451.9,561.6 1462.5,548.7 1474.6,534C1486.7,519.3 1498.5,504.8 1510.4,490.1C1522.3,475.5 1534.1,460.8 1545.9,446.1C1557.7,431.5 1569.4,416.8 1581.2,402.2C1593,387.6 1606.8,370.3 1616.5,358.3C1626.2,346.3 1633.5,337.3 1639.4,330M1686.4,271.8C1698.2,257.2 1710.9,241.4 1722.7,226.5C1734.5,211.6 1745.9,197.2 1757.3,182.6C1768.7,167.9 1780,153.2 1790.9,138.6C1801.8,123.9 1812.7,109.3 1822.9,94.7C1833.2,80.1 1847.5,58.1 1852.4,50.8M1312.2,753.6C1321.2,745.9 1348.6,722.7 1366.1,707.3C1383.6,691.9 1403.9,673.4 1417.4,661.1C1430.9,648.8 1438.8,641.1 1447,633.4M1500.1,582C1515.6,566.6 1542,540 1559.3,522.3C1576.6,504.6 1589.1,491.4 1603.8,476C1618.5,460.6 1632.8,445.2 1647.2,429.8C1661.6,414.4 1677.5,397 1690,383.5C1702.5,370 1708.5,363.4 1722.1,348.6M1771.6,294.5C1787.5,277.2 1802.5,260.8 1817.3,244.8C1832.1,228.8 1845.8,213.9 1860.2,198.5C1874.6,183.1 1896.5,159.9 1903.8,152.2M1350.8,753.6C1360.5,746.1 1390.1,723.8 1409.1,708.9C1428.1,694 1449.5,676.6 1464.8,664.1C1480.1,651.6 1491.9,641.6 1500.8,634.1M1555.6,586.9C1572.5,572 1600.8,546.9 1619.6,529.9C1638.4,512.9 1652.4,500 1668.6,485.1C1684.8,470.2 1700.7,455.3 1716.6,440.4C1732.5,425.5 1748.4,410.5 1764.1,395.6C1779.8,380.7 1795.4,365.8 1811,350.9C1826.6,336 1842.1,321 1857.6,306.1C1873.1,291.2 1896.1,268.8 1903.8,261.4M1390.2,750C1400.8,742.5 1432.8,719.8 1453.9,704.7C1475,689.6 1500.5,671.1 1516.6,659.4C1532.7,647.7 1540.3,641.9 1550.4,634.4M1610,589C1619.7,581.5 1622.2,579.7 1635.8,568.8C1649.4,557.9 1673.5,538.6 1691.8,523.5C1710.1,508.4 1727.9,493.4 1745.6,478.3C1763.3,463.2 1780.7,448.1 1798.2,433C1815.7,417.9 1832.8,402.8 1850.4,387.7C1868,372.6 1894.8,349.9 1903.7,342.4M1434.4,738C1447.5,730 1485.6,707.2 1512.8,689.9C1540,672.6 1573.3,650.8 1597.6,634.4M1658.4,591.7C1678.8,576.9 1699.4,561.5 1719.9,545.8C1740.4,530.1 1761.1,513.7 1781.4,497.7C1801.7,481.7 1821.4,465.6 1841.8,449.6C1862.2,433.6 1893.5,409.6 1903.8,401.6M1470.4,728C1483.9,720.3 1523.7,697.8 1551.3,682C1578.9,666.2 1610.9,648.4 1636.3,633.4M1703.5,591.7C1726.2,576.8 1750.8,559.6 1772.8,544C1794.8,528.4 1813.8,513.3 1835.6,498C1857.4,482.7 1892.3,459.7 1903.7,452M1551.6,712C1563.8,704.6 1603.1,680.6 1624.5,667.5C1645.9,654.4 1659.8,645.9 1680,633.4M1745.7,592.6C1760.4,583.5 1752.7,588.4 1767.9,578.6C1783.1,568.9 1814.5,548.9 1837.1,534.1C1859.7,519.3 1892.6,497 1903.7,489.6M1618.5,682C1634.5,674.1 1687.7,649 1714.8,634.4M1780.9,594.4C1807.2,578.7 1857.6,549.1 1872.9,540M1683.2,664C1693.5,659.2 1725.6,644.8 1745.1,635.3C1764.6,625.8 1782.9,616.2 1800.2,606.7C1817.5,597.2 1840.6,582.8 1848.7,578" fill="none" stroke="#000" stroke-width="1.5" stroke-opacity="0.9"/>
</g>
<path d="M1138.3,753.6L1138.3,593.1L1142.0,578.2L1147.4,550.0L1156.9,508.9L1166.0,460.0L1172.5,429.0L1181.6,420.0L1199.4,400.0L1213.8,380.8L1263.4,323.8L1322.8,257.0L1352.5,220.0L1377.3,190.7L1407.0,156.0L1441.7,126.3L1469.5,104.5L1535.8,84.2L1570.0,71.8L1628.2,50.8L1903.6,50.8L1903.6,489.4L1888.6,511.4L1872.9,535.0L1857.1,558.6L1844.6,582.1L1835.1,596.3L1825.1,601.5L1794.3,619.0L1778.7,627.9L1722.9,652.0L1667.2,670.6L1611.5,687.3L1555.7,705.9L1500.0,718.9L1461.5,731.1L1440.0,737.5L1382.3,753.6Z" fill="none" stroke="#0a0a14" stroke-width="1.8" stroke-linejoin="round"/>
<path d="M1138.3,19.3H1906.6V756.3H1138.3Z" fill="none" stroke="#111" stroke-width="2.6"/>
<path d="M1171.2,756.3v18M1238.1,756.3v18M1304.9,756.3v18M1371.8,756.3v18M1438.7,756.3v18M1505.6,756.3v18M1572.4,756.3v18M1639.3,756.3v18M1706.2,756.3v18M1773,756.3v18M1839.9,756.3v18M1906.8,756.3v18M1138.3,19.3h-18M1138.3,162.7h-18M1138.3,306.1h-18M1138.3,449.5h-18M1138.3,592.9h-18M1138.3,736.3h-18" fill="none" stroke="#111" stroke-width="2.4"/>
<g font-size="38" fill="#151515">
<text transform="translate(1171.2,814.5) scale(0.97,1)" text-anchor="middle">40</text>
<text transform="translate(1238.1,814.5) scale(0.97,1)" text-anchor="middle">60</text>
<text transform="translate(1304.9,814.5) scale(0.97,1)" text-anchor="middle">80</text>
<text transform="translate(1371.8,814.5) scale(0.97,1)" text-anchor="middle">100</text>
<text transform="translate(1438.7,814.5) scale(0.97,1)" text-anchor="middle">120</text>
<text transform="translate(1505.6,814.5) scale(0.97,1)" text-anchor="middle">140</text>
<text transform="translate(1572.4,814.5) scale(0.97,1)" text-anchor="middle">160</text>
<text transform="translate(1639.3,814.5) scale(0.97,1)" text-anchor="middle">180</text>
<text transform="translate(1706.2,814.5) scale(0.97,1)" text-anchor="middle">200</text>
<text transform="translate(1773,814.5) scale(0.97,1)" text-anchor="middle">220</text>
<text transform="translate(1839.9,814.5) scale(0.97,1)" text-anchor="middle">240</text>
<text transform="translate(1906.8,814.5) scale(0.97,1)" text-anchor="middle">260</text>
<text transform="translate(1117.5,33.3) scale(0.97,1)" text-anchor="end">4<tspan dx="-1.5">.</tspan><tspan dx="-1.5">0</tspan></text>
<text transform="translate(1117.5,176.7) scale(0.97,1)" text-anchor="end">3<tspan dx="-1.5">.</tspan><tspan dx="-1.5">5</tspan></text>
<text transform="translate(1117.5,320.1) scale(0.97,1)" text-anchor="end">3<tspan dx="-1.5">.</tspan><tspan dx="-1.5">0</tspan></text>
<text transform="translate(1117.5,463.5) scale(0.97,1)" text-anchor="end">2<tspan dx="-1.5">.</tspan><tspan dx="-1.5">5</tspan></text>
<text transform="translate(1117.5,606.9) scale(0.97,1)" text-anchor="end">2<tspan dx="-1.5">.</tspan><tspan dx="-1.5">0</tspan></text>
<text transform="translate(1117.5,750.3) scale(0.97,1)" text-anchor="end">1<tspan dx="-1.5">.</tspan><tspan dx="-1.5">5</tspan></text>
</g>
<g font-size="38" fill="#0a0a0a" text-anchor="middle">
<text transform="translate(1269.9,411) rotate(-71.3) scale(0.97,1)" y="12.4">4°</text>
<text transform="translate(1445,273) rotate(-64.7) scale(0.97,1)" y="12.4">6°</text>
<text transform="translate(1552.4,299) rotate(-56.8) scale(0.97,1)" y="12.4">8°</text>
<text transform="translate(1662.8,301) rotate(-51.1) scale(0.97,1)" y="12.4">10°</text>
<text transform="translate(1746.9,321.5) rotate(-47.5) scale(0.97,1)" y="12.4">12°</text>
<text transform="translate(1274.4,607) rotate(-60.6) scale(0.97,1)" y="12.4">6°</text>
<text transform="translate(1343,610.5) rotate(-54.2) scale(0.97,1)" y="12.4">8°</text>
<text transform="translate(1414,606) rotate(-49.1) scale(0.97,1)" y="12.4">10°</text>
<text transform="translate(1473.5,608) rotate(-44.1) scale(0.97,1)" y="12.4">12°</text>
<text transform="translate(1528.4,610.5) rotate(-40.7) scale(0.97,1)" y="12.4">14°</text>
<text transform="translate(1580.8,611.5) rotate(-37.3) scale(0.97,1)" y="12.4">16°</text>
<text transform="translate(1628.5,613) rotate(-35.1) scale(0.97,1)" y="12.4">18°</text>
<text transform="translate(1670.8,612.5) rotate(-31.8) scale(0.97,1)" y="12.4">20°</text>
<text transform="translate(1713,613) rotate(-31.9) scale(0.97,1)" y="12.4">22°</text>
<text transform="translate(1748.5,614.5) rotate(-31.4) scale(0.97,1)" y="12.4">24°</text>
</g>
<text x="994" y="846.5" font-size="70" font-weight="bold" fill="#000" textLength="89" lengthAdjust="spacingAndGlyphs">(b)</text>
<text x="1432.5" y="871.2" font-size="36" font-weight="bold" fill="#111" textLength="152" lengthAdjust="spacingAndGlyphs">G <tspan font-size="46" dy="-3.2">(</tspan><tspan font-size="36" dy="3.2">kg/h</tspan><tspan font-size="46" dy="-3.2">)</tspan></text>
<text transform="translate(1047,431.0) rotate(-90)" font-size="47" fill="#111">β<tspan x="27" dy="12.6" font-size="29" font-style="italic">T</tspan><tspan x="47.8" dy="-9.1" font-size="40" font-weight="bold"> (-)</tspan></text>
</svg></body></html>
